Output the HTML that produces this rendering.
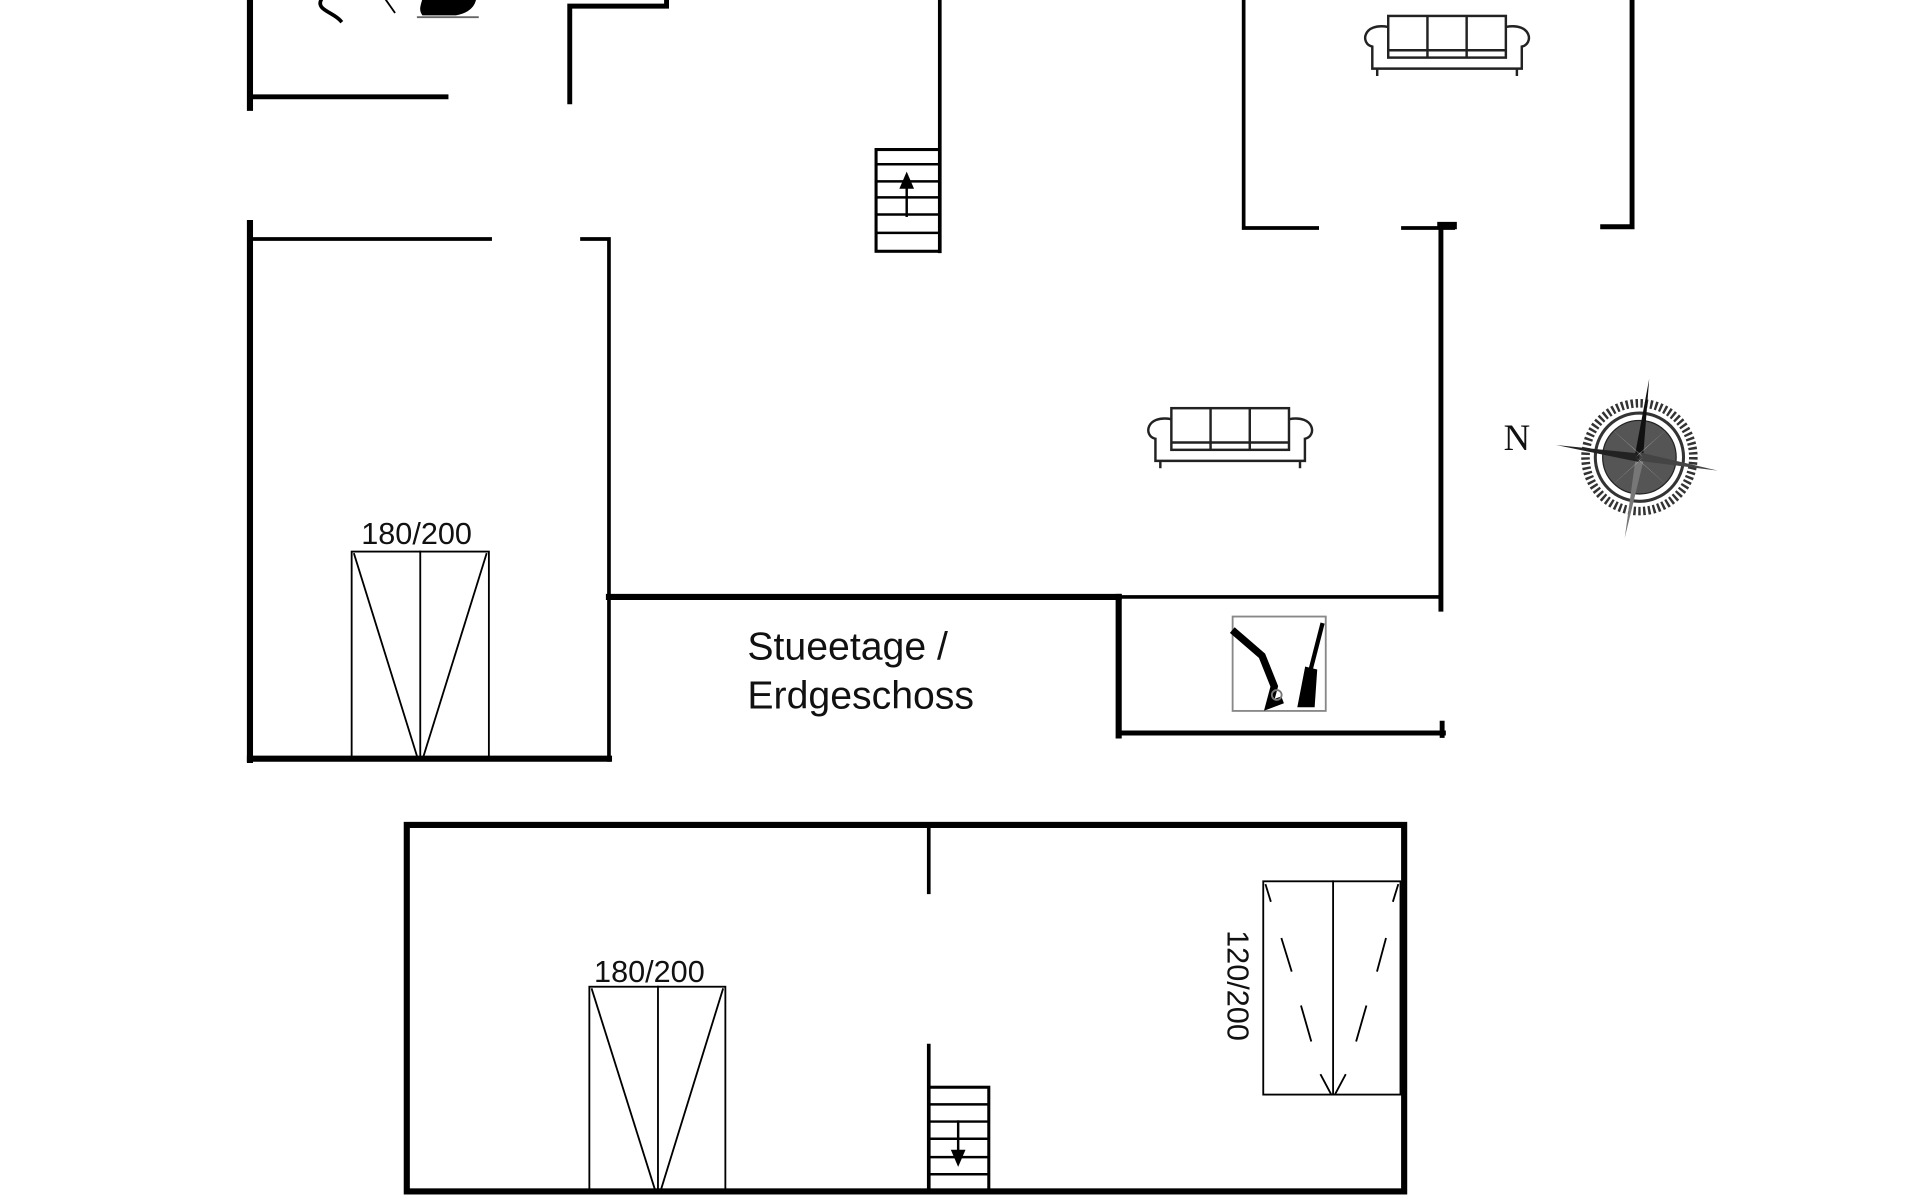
<!DOCTYPE html>
<html><head><meta charset="utf-8"><style>
html,body{margin:0;padding:0;background:#fff;}
svg{display:block;}
</style></head><body>
<svg width="1920" height="1200" viewBox="0 0 1567 979" preserveAspectRatio="none" xmlns="http://www.w3.org/2000/svg">
<g stroke="#000" fill="none" stroke-linecap="square">
<line x1="204" y1="0" x2="204" y2="88" stroke-width="5"/>
<line x1="204" y1="79" x2="364" y2="79" stroke-width="4"/>
<polyline points="465,83 465,5 544,5 544,0" stroke-width="4"/>
<path d="M262,0 C258,8 272,10 278,17" stroke-width="3"/>
<line x1="315" y1="0" x2="322" y2="10" stroke-width="1.5"/>
<path d="M345,0 L388,0 C386,8 378,11 372,12 L345,12 C342,8 344,4 345,0Z" fill="#000" stroke-width="1"/>
<line x1="341" y1="14" x2="390" y2="14" stroke-width="1.5" stroke="#666"/>
<line x1="767" y1="0" x2="767" y2="205" stroke-width="3"/>
<rect x="715" y="122" width="52" height="83" stroke-width="2.5"/>
<g stroke-width="2">
<line x1="715" y1="134" x2="767" y2="134"/><line x1="715" y1="148" x2="767" y2="148"/>
<line x1="715" y1="161" x2="767" y2="161"/><line x1="715" y1="175" x2="767" y2="175"/>
<line x1="715" y1="190" x2="767" y2="190"/>
<line x1="740" y1="176" x2="740" y2="150"/>
</g>
<polygon points="740,140 734,154 746,154" fill="#000" stroke="none"/>
<line x1="204" y1="182" x2="204" y2="620" stroke-width="5"/>
<line x1="204" y1="195" x2="400" y2="195" stroke-width="3"/>
<polyline points="475,195 497,195 497,620" stroke-width="3"/>
<line x1="204" y1="619" x2="497" y2="619" stroke-width="5"/>
<rect x="287" y="450" width="112" height="169" stroke-width="1.5"/>
<line x1="343" y1="450" x2="343" y2="619" stroke-width="1.5"/>
<line x1="289" y1="452" x2="341" y2="619" stroke-width="1.5"/>
<line x1="397" y1="452" x2="345" y2="619" stroke-width="1.5"/>
<line x1="497" y1="487" x2="913" y2="487" stroke-width="5"/>
<line x1="913" y1="487" x2="1176" y2="487" stroke-width="3"/>
<line x1="913" y1="487" x2="913" y2="600" stroke-width="5"/>
<line x1="913" y1="598" x2="1178" y2="598" stroke-width="4"/>
<line x1="1177" y1="590" x2="1177" y2="600" stroke-width="4"/>
<line x1="1176" y1="187" x2="1176" y2="497" stroke-width="4"/>
<rect x="1006" y="503" width="76" height="77" stroke="#888" stroke-width="1.5"/>
<path d="M1008,516 L1030,535 L1040,560 L1036,575 L1044,572" stroke-width="6"/>
<path d="M1079,510 L1070,545" stroke-width="3.5"/>
<path d="M1066,545 L1074,547 L1072,576 L1060,576Z" fill="#000" stroke-width="2"/>
<circle cx="1042" cy="567" r="4" stroke="#777" stroke-width="1.5"/>
<polyline points="1015,0 1015,186 1075,186" stroke-width="3"/>
<line x1="1145" y1="186" x2="1186" y2="186" stroke-width="3"/>
<line x1="1176" y1="184" x2="1186" y2="184" stroke-width="6"/>
<polyline points="1308,185 1332,185 1332,0" stroke-width="4"/>
<rect x="332" y="673" width="814" height="299" stroke-width="5"/>
<line x1="758" y1="673" x2="758" y2="728" stroke-width="3"/>
<line x1="758" y1="853" x2="758" y2="972" stroke-width="3"/>
<rect x="758" y="887" width="49" height="85" stroke-width="2.5"/>
<g stroke-width="2">
<line x1="758" y1="901" x2="807" y2="901"/><line x1="758" y1="915" x2="807" y2="915"/>
<line x1="758" y1="929" x2="807" y2="929"/><line x1="758" y1="944" x2="807" y2="944"/>
<line x1="758" y1="958" x2="807" y2="958"/>
<line x1="782" y1="915" x2="782" y2="942"/>
</g>
<polygon points="782,952 776,938 788,938" fill="#000" stroke="none"/>
<rect x="481" y="805" width="111" height="167" stroke-width="1.5"/>
<line x1="537" y1="805" x2="537" y2="972" stroke-width="1.5"/>
<line x1="483" y1="807" x2="535" y2="972" stroke-width="1.5"/>
<line x1="590" y1="807" x2="539" y2="972" stroke-width="1.5"/>
<rect x="1031" y="719" width="112" height="174" stroke-width="1.5"/>
<line x1="1088" y1="719" x2="1088" y2="893" stroke-width="1.5"/>
<g stroke-width="1.5">
<line x1="1033" y1="722" x2="1037" y2="735"/><line x1="1046" y1="766" x2="1054" y2="792"/>
<line x1="1062" y1="821" x2="1070" y2="849"/><line x1="1078" y1="877" x2="1086" y2="892"/>
<line x1="1141" y1="722" x2="1137" y2="735"/><line x1="1131" y1="766" x2="1124" y2="792"/>
<line x1="1115" y1="821" x2="1107" y2="849"/><line x1="1098" y1="877" x2="1090" y2="892"/>
</g>
</g>
<g id="sofa" fill="none" stroke="#222" stroke-width="2">
<rect x="1133" y="13" width="96" height="34"/>
<line x1="1165" y1="13" x2="1165" y2="47"/><line x1="1197" y1="13" x2="1197" y2="47"/>
<line x1="1133" y1="41" x2="1229" y2="41"/>
<path d="M1133,22 C1112,18 1110,36 1120,38 L1120,56 L1242,56 L1242,38 C1252,36 1250,18 1229,22"/>
<line x1="1124" y1="56" x2="1124" y2="62"/><line x1="1238" y1="56" x2="1238" y2="62"/>
</g>
<use href="#sofa" transform="translate(-177,320)"/>
<g transform="translate(1338,373)">
<circle r="44" fill="none" stroke="#333" stroke-width="7" stroke-dasharray="2 2"/>
<circle r="36" fill="none" stroke="#333" stroke-width="2.5"/>
<circle r="30" fill="#555" stroke="#222" stroke-width="1"/>
<polygon points="8,-64 3,0 -4,0" fill="#111"/>
<polygon points="-12,66 -3,0 4,0" fill="#777"/>
<polygon points="-68,-10 0,-3 0,4" fill="#222"/>
<polygon points="64,11 0,-4 0,3" fill="#444"/>
<polygon points="-26,-26 0,-3 3,0" fill="#ccc"/>
<polygon points="26,26 0,3 -3,0" fill="#ccc"/>
<polygon points="26,-26 0,-3 -3,0" fill="#ddd"/>
<polygon points="-26,26 0,3 3,0" fill="#ddd"/>
</g>
<g font-family="'Liberation Sans', Arial, sans-serif" fill="#111">
<text x="1238" y="367" font-family="'Liberation Serif', serif" font-size="30" text-anchor="middle">N</text>
<text x="340" y="444" font-size="25" text-anchor="middle">180/200</text>
<text x="530" y="801" font-size="25" text-anchor="middle">180/200</text>
<text x="610" y="538" font-size="32">Stueetage /</text>
<text x="610" y="578" font-size="32">Erdgeschoss</text>
<text transform="translate(1002,804) rotate(90)" font-size="25" text-anchor="middle">120/200</text>
</g>
</svg>
</body></html>
